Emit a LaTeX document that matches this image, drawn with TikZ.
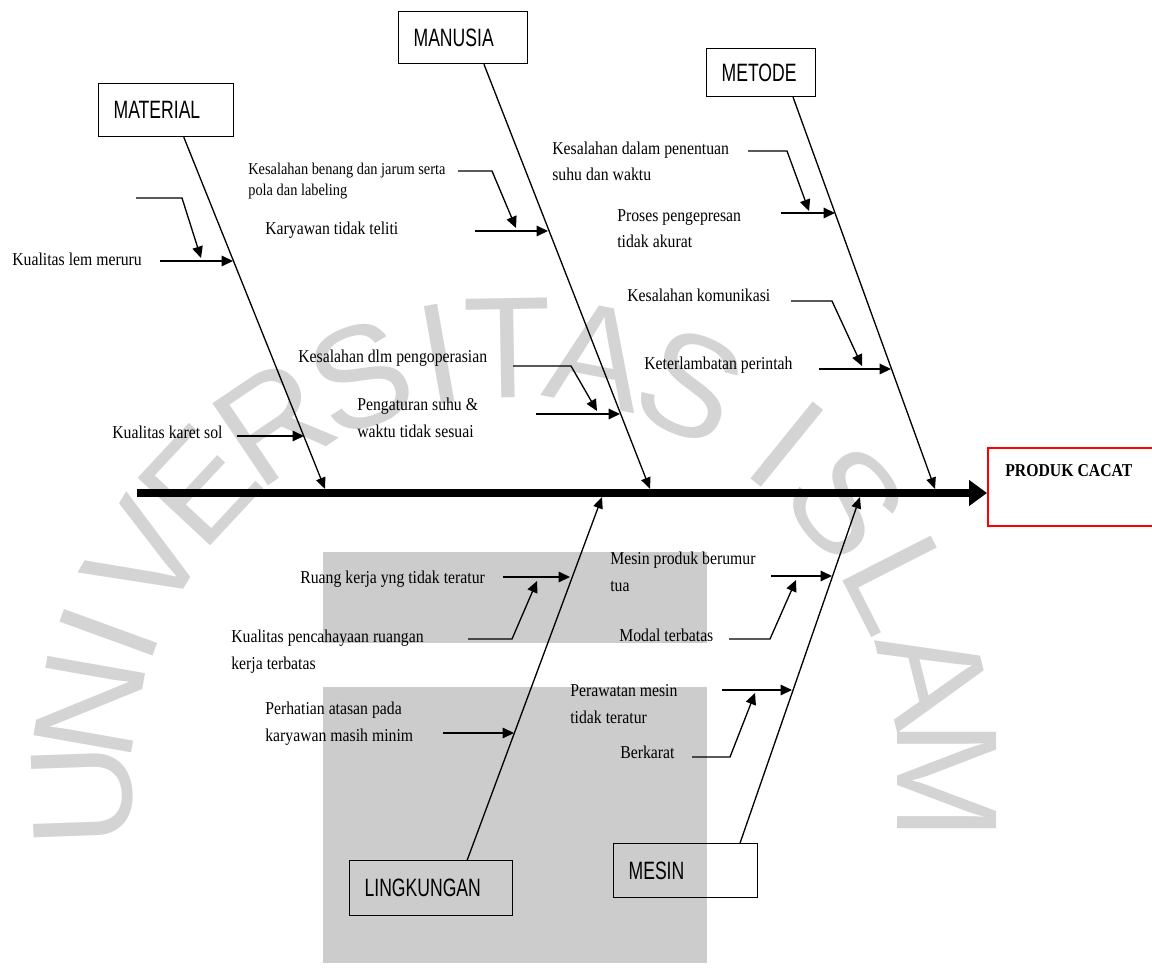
\documentclass[tikz,border=0pt]{standalone}
\usepackage{fontspec}
\newfontfamily\catfont[FakeStretch=0.70]{Liberation Sans}
\newfontfamily\lblfont[FakeStretch=0.87]{Liberation Serif}
\newfontfamily\wmfont{Liberation Sans}
\usetikzlibrary{arrows.meta, positioning, calc}

\begin{document}
\begin{tikzpicture}[
    x=0.02cm, y=-0.02cm,
    category/.style={rectangle, draw, line width=0.7pt, anchor=north west, inner xsep=0.3cm, align=left, font=\catfont\fontsize{14.3}{17}\selectfont},
    effect/.style={rectangle, draw=red, line width=0.9pt, anchor=north west, minimum width=4cm, minimum height=1.56cm},
    cause/.style={anchor=base west, inner sep=0pt, align=left, font=\lblfont\fontsize{10.3}{15.3}\selectfont},
    smallcause/.style={cause, font=\lblfont\fontsize{9.4}{12.5}\selectfont},
    bone/.style={-{Triangle[length=6.5pt, width=5.5pt]}, line width=0.75pt},
    arrow/.style={-{Triangle[length=6.5pt, width=6pt]}, line width=0.75pt},
    spine/.style={-{Triangle[length=0.36cm, width=0.5cm]}, line width=4.5pt},
    shade/.style={fill=black!20, draw=none},
    watermark/.style={text=black!17, font=\wmfont\fontsize{82}{82}\selectfont, inner sep=0pt}
]
\useasboundingbox (0,0) rectangle (1152,976);

% grey panels behind the lower causes
\fill[shade] (323,552) rectangle (707,643);
\fill[shade] (323,687) rectangle (707,963);

% watermark
\foreach \ch/\ang in {U/182, N/170, I/160, V/149, E/137, R/124, S/111, I/100, T/91, A/79, S/66, I/51, S/40, L/27, A/14, M/0}
    \node[watermark, rotate=\ang-90] (wm-\ang) at ({515+432*cos(\ang)}, {780-432*sin(\ang)}) {\ch};

% Effect and spine
\node[effect] (produk) at (987,447) {};
\node[font=\lblfont\bfseries\fontsize{10.3}{12}\selectfont, anchor=base west, inner sep=0pt] (produk-text) at ([shift={(18,29)}]produk.north west) {PRODUK CACAT};
\coordinate (tail) at (137,493);
\draw[spine] (tail) -- (tail -| produk.west);

% Material
\node[category, text width=2.10cm, minimum height=1.06cm] (material) at (98,83) {MATERIAL};
\coordinate (material-tip) at (325,489);
\draw[bone] ($(material.south west)!0.63!(material.south east)$) -- (material-tip);

\node[cause] (lem) at (12,266) {Kualitas lem meruru};
\node[cause] (karet) at (112,438) {Kualitas karet sol};
\coordinate (lem-from) at (160,261);
\coordinate (lem-to) at (233,261);
\coordinate (lem-sub) at (136,198);
\coordinate (lem-subtip) at (201,258);
\coordinate (karet-from) at (237,436);
\coordinate (karet-to) at (304,436);
\draw[arrow] (lem-from) -- (lem-to);
\draw[arrow] (lem-sub) -- ++(46,0) -- (lem-subtip);
\draw[arrow] (karet-from) -- (karet-to);

% Manusia
\node[category, text width=1.98cm, minimum height=1.04cm] (manusia) at (398,11) {MANUSIA};
\coordinate (manusia-tip) at (650,489);
\draw[bone] ($(manusia.south west)!0.66!(manusia.south east)$) -- (manusia-tip);

% (base of a two-line text is its last line)
\node[smallcause] (benang) at (248,196) {Kesalahan benang dan jarum serta\\pola dan labeling};
\node[cause] (teliti) at (265,235) {Karyawan tidak teliti};
\node[cause] (dlm) at (298,362) {Kesalahan dlm pengoperasian};
\node[cause] (suhu) at (357,437) {Pengaturan suhu \&\\waktu tidak sesuai};
\coordinate (benang-sub) at (458,171);
\coordinate (benang-tip) at (516,228);
\coordinate (teliti-from) at (475,231);
\coordinate (teliti-to) at (548,231);
\coordinate (dlm-sub) at (513,366);
\coordinate (dlm-tip) at (597,411);
\coordinate (suhu-from) at (536,414);
\coordinate (suhu-to) at (620,414);
\draw[arrow] (benang-sub) -- ++(34,0) -- (benang-tip);
\draw[arrow] (teliti-from) -- (teliti-to);
\draw[arrow] (dlm-sub) -- ++(58,0) -- (dlm-tip);
\draw[arrow] (suhu-from) -- (suhu-to);

% Metode
\node[category, text width=1.58cm, minimum height=0.96cm] (metode) at (706,48) {METODE};
\coordinate (metode-tip) at (935,489);
\draw[bone] ($(metode.south west)!0.79!(metode.south east)$) -- (metode-tip);

\node[cause] (penentuan) at (552,181) {Kesalahan dalam penentuan\\suhu dan waktu};
\node[cause] (proses) at (617,248) {Proses pengepresan\\tidak akurat};
\node[cause] (komunikasi) at (627,302) {Kesalahan komunikasi};
\node[cause] (perintah) at (644,369) {Keterlambatan perintah};
\coordinate (penentuan-sub) at (748,151);
\coordinate (penentuan-tip) at (809,211);
\coordinate (proses-from) at (781,213);
\coordinate (proses-to) at (835,213);
\coordinate (komunikasi-sub) at (791,301);
\coordinate (komunikasi-tip) at (862,366);
\coordinate (perintah-from) at (819,369);
\coordinate (perintah-to) at (891,369);
\draw[arrow] (penentuan-sub) -- ++(39,0) -- (penentuan-tip);
\draw[arrow] (proses-from) -- (proses-to);
\draw[arrow] (komunikasi-sub) -- ++(41,0) -- (komunikasi-tip);
\draw[arrow] (perintah-from) -- (perintah-to);

% Lingkungan
\node[category, text width=2.66cm, minimum height=1.10cm] (lingkungan) at (349,860) {LINGKUNGAN};
\coordinate (lingkungan-tip) at (602,497);
\draw[bone] ($(lingkungan.north west)!0.72!(lingkungan.north east)$) -- (lingkungan-tip);

\node[cause] (ruang) at (300,583) {Ruang kerja yng tidak teratur};
\node[cause] (cahaya) at (231,669) {Kualitas pencahayaan ruangan\\kerja terbatas};
\node[cause] (perhatian) at (265,741) {Perhatian atasan pada\\karyawan masih minim};
\coordinate (ruang-from) at (503,577);
\coordinate (ruang-to) at (570,577);
\coordinate (cahaya-sub) at (468,639);
\coordinate (cahaya-tip) at (537,581);
\coordinate (perhatian-from) at (443,733);
\coordinate (perhatian-to) at (514,733);
\draw[arrow] (ruang-from) -- (ruang-to);
\draw[arrow] (cahaya-sub) -- ++(44,0) -- (cahaya-tip);
\draw[arrow] (perhatian-from) -- (perhatian-to);

% Mesin
\node[category, text width=2.28cm, minimum height=1.08cm] (mesin) at (613,843) {MESIN};
\coordinate (mesin-tip) at (860,497);
\draw[bone] ($(mesin.north west)!0.875!(mesin.north east)$) -- (mesin-tip);

\node[cause] (tua) at (610,591) {Mesin produk berumur\\tua};
\node[cause] (modal) at (619,641) {Modal terbatas};
\node[cause] (perawatan) at (570,723) {Perawatan mesin\\tidak teratur};
\node[cause] (berkarat) at (620,758) {Berkarat};
\coordinate (tua-from) at (771,576);
\coordinate (tua-to) at (832,576);
\coordinate (modal-sub) at (729,639);
\coordinate (modal-tip) at (796,580);
\coordinate (perawatan-from) at (722,690);
\coordinate (perawatan-to) at (792,690);
\coordinate (berkarat-sub) at (692,757);
\coordinate (berkarat-tip) at (755,693);
\draw[arrow] (tua-from) -- (tua-to);
\draw[arrow] (modal-sub) -- ++(41,0) -- (modal-tip);
\draw[arrow] (perawatan-from) -- (perawatan-to);
\draw[arrow] (berkarat-sub) -- ++(38,0) -- (berkarat-tip);

\end{tikzpicture}
\end{document}
